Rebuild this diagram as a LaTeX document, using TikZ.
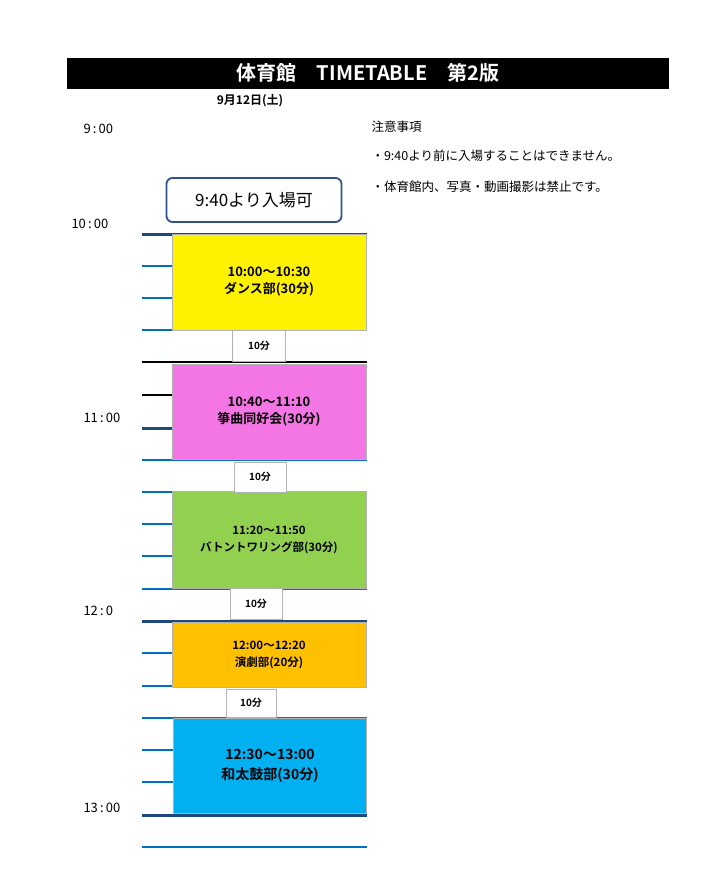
\documentclass[tikz,border=0pt]{standalone}
\usepackage{fontspec}
\setmainfont{Noto Sans CJK JP}
\newfontfamily\jpb{Noto Sans CJK JP Bold}
\begin{document}
\begin{tikzpicture}[x=1pt,y=-1pt,
 minor/.style={line width=1.6pt,draw={rgb,255:red,0;green,112;blue,192}},
 major/.style={line width=3pt,draw={rgb,255:red,31;green,73;blue,125}},
 ev/.style={draw=black!30,line width=0.6pt,inner sep=0pt,align=center,font=\jpb\fontsize{13}{17}\selectfont},
 gap/.style={draw=black!30,fill=white,line width=0.6pt,inner sep=0pt,font=\jpb\fontsize{10}{12}\selectfont},
 tlab/.style={anchor=west,font=\fontsize{13}{15}\selectfont},
 note/.style={anchor=west,font=\fontsize{12.5}{15}\selectfont}]
\useasboundingbox (0,0) rectangle (702,896);
\fill[black] (67,58) rectangle (669,89);
\node[text=white,font=\jpb\fontsize{20}{22}\selectfont] (title) at (368,73) {体育館\quad TIMETABLE\quad 第2版};
\node[font=\jpb\fontsize{12}{14}\selectfont] (date) at (250,101) {9月12日(土)};
% grid
\foreach \y in {266,298,330,460,492,524,556,589,653,686,718,750,782,847} \draw[minor] (142,\y) -- (367,\y);
\foreach \y in {362,395} \draw[line width=1.4pt] (142,\y) -- (367,\y);
\foreach \y in {234,428,621,815} \draw[major] (142,\y) -- (367,\y);
% time labels
\node[tlab] (t9) at (80,129) {9\,:\,00};
\node[tlab] (t10) at (68,224) {10\,:\,00};
\node[tlab] (t11) at (80,418) {11\,:\,00};
\node[tlab] (t12) at (80,611) {12\,:\,0};
\node[tlab] (t13) at (80,808) {13\,:\,00};
% entry
\node[draw={rgb,255:red,47;green,82;blue,143},line width=1.8pt,rounded corners=6pt,minimum width=175pt,minimum height=44pt,font=\fontsize{17}{19}\selectfont] (entry) at (254,200) {9:40より入場可};
% events
\node[ev,fill=yellow,minimum width=194pt,minimum height=96pt] (e1) at (269,282) {10:00～10:30\\ダンス部(30分)};
\node[ev,fill={rgb,255:red,244;green,118;blue,228},minimum width=194pt,minimum height=95pt] (e2) at (269,412) {10:40～11:10\\箏曲同好会(30分)};
\node[ev,fill={rgb,255:red,146;green,208;blue,80},minimum width=194pt,minimum height=97pt,font=\jpb\fontsize{11.5}{17}\selectfont] (e3) at (269,540) {11:20～11:50\\バトントワリング部(30分)};
\node[ev,fill={rgb,255:red,255;green,192;blue,0},minimum width=194pt,minimum height=65pt,font=\jpb\fontsize{11.5}{17}\selectfont] (e4) at (269,655) {12:00～12:20\\演劇部(20分)};
\node[ev,fill={rgb,255:red,0;green,176;blue,240},minimum width=193pt,minimum height=95pt,font=\jpb\fontsize{14}{20}\selectfont] (e5) at (270,766) {12:30～13:00\\和太鼓部(30分)};
% gaps
\node[gap,minimum width=53pt,minimum height=31pt] (g1) at (259,346) {10分};
\node[gap,minimum width=52pt,minimum height=30pt] (g2) at (260,477) {10分};
\node[gap,minimum width=52pt,minimum height=31pt] (g3) at (256,604) {10分};
\node[gap,minimum width=50pt,minimum height=28pt] (g4) at (251,703) {10分};
% notes
\node[note] (n0) at (368,127) {注意事項};
\node[note] (n1) at (368,156) {・9:40より前に入場することはできません。};
\node[note] (n2) at (368,187) {・体育館内、写真・動画撮影は禁止です。};
\end{tikzpicture}
\end{document}
